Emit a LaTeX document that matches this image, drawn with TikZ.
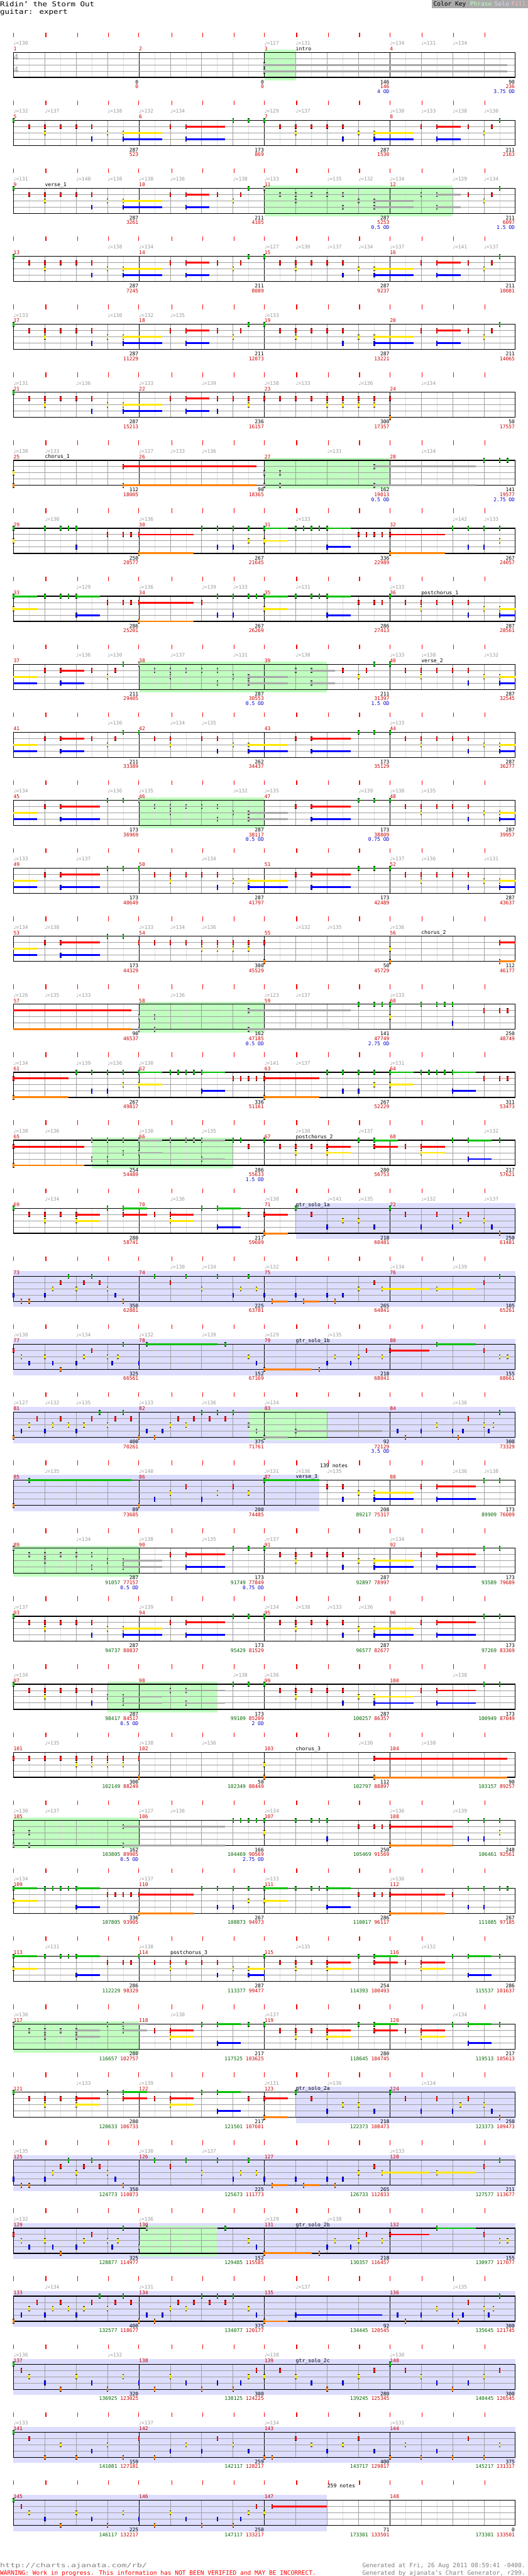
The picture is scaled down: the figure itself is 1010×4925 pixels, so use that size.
\documentclass[tikz,border=0pt]{standalone}
\usepackage{fontspec}
\newfontfamily\chartmono{DejaVu Sans Mono}
\newfontfamily\chartwide[FakeStretch=1.17]{DejaVu Sans Mono}
\newfontfamily\chartwider[FakeStretch=1.4]{DejaVu Sans Mono}
\newfontfamily\chartsym{DejaVu Sans}
\definecolor{cG}{HTML}{00C000}
\definecolor{cR}{HTML}{FF0000}
\definecolor{cY}{HTML}{FFE600}
\definecolor{cB}{HTML}{0000FF}
\definecolor{cO}{HTML}{FF8000}
\definecolor{cg}{HTML}{A8A8A8}
\definecolor{cr}{HTML}{A8A8A8}
\definecolor{cy}{HTML}{A8A8A8}
\definecolor{cb}{HTML}{A8A8A8}
\definecolor{co}{HTML}{A8A8A8}
\definecolor{phr}{HTML}{C0FFC0}
\definecolor{sol}{HTML}{DDDDFF}
\definecolor{fillpink}{HTML}{FFC0C0}
\definecolor{dred}{HTML}{CC0000}
\definecolor{dgreen}{HTML}{006600}
\definecolor{dblue}{HTML}{0000CC}
\definecolor{tgray}{HTML}{999999}
\definecolor{lgrid}{HTML}{E0E0E0}
\definecolor{mgrid}{HTML}{A0A0A0}
\definecolor{sline}{HTML}{A0A0A0}
\definecolor{keybg}{HTML}{AAAAAA}
\definecolor{footgray}{HTML}{808080}
\def\LaneG{0}\def\LaneR{1}\def\LaneY{2}\def\LaneB{3}\def\LaneO{4}
\def\Laneg{0}\def\Laner{1}\def\Laney{2}\def\Laneb{3}\def\Laneo{4}
\tikzset{
  numsty/.style={font=\chartmono\fontsize{9.6}{10}\selectfont,inner sep=0pt,anchor=base east},
  temposty/.style={font=\chartmono\fontsize{9.6}{10}\selectfont,text=tgray,inner sep=0pt,anchor=base west},
  mnumsty/.style={font=\chartmono\fontsize{9.6}{10}\selectfont,text=dred,inner sep=0pt,anchor=base west},
  secsty/.style={font=\chartmono\fontsize{9.8}{10}\selectfont,text=black,inner sep=0pt,anchor=base west},
  keysty/.style={font=\chartmono\fontsize{11.5}{12}\selectfont,inner sep=0pt,anchor=base west},
  footsty/.style={font=\chartmono\fontsize{11.5}{12}\selectfont,inner sep=0pt},
}
\newcommand\setrow[1]{\pgfmathsetmacro\ry{130*#1}\def\rn{#1}}
\newcommand\staff{%
  \foreach \k in {2,6,...,62}{\draw[lgrid,line width=0.8pt] ({25.8+15*\k},\ry+100) -- ({25.8+15*\k},\ry+148);}
  \foreach \k in {4,8,12,20,24,28,36,40,44,52,56,60}{\draw[mgrid,line width=1pt] ({25.8+15*\k},\ry+100) -- ({25.8+15*\k},\ry+148);}
  \foreach \k in {16,32,48}{\draw[black,line width=1pt] ({25.8+15*\k},\ry+100) -- ({25.8+15*\k},\ry+148);}
  \foreach \sy in {112,124,136}{\draw[sline,line width=1.2pt] (25.8,\ry+\sy) -- (985.8,\ry+\sy);}
  \draw[black,line width=1.5pt] (25.8,\ry+100) rectangle (985.8,\ry+148);
  \foreach \tx in {25.8,87.6,148.1,207.4,265.4,328.5,387.8,447.6,505.6,567.5,628.0,687.9,745.9,807.7,867.6,927.5}{\draw[cR,line width=1.6pt] (\tx,\ry+62) -- (\tx,\ry+71);}
  \foreach \k in {0,1,2,3}{\pgfmathtruncatemacro\mnum{4*\rn+1+\k}\node[mnumsty] at ({25.8+240*\k},\ry+96.8) {\mnum};}
}
\newcommand\PhR[2]{\fill[phr] ({25.8+15*#1},\ry+95) rectangle ({25.8+15*#2},\ry+154);}
\newcommand\SoL[2]{\fill[sol] ({25.8+15*#1},\ry+90) rectangle ({25.8+15*#2},\ry+159);}
\newcommand\tempos[1]{\foreach \b/\v in {#1}{\node[temposty] at ({25.8+60*\b},\ry+86) {{\chartsym ♩}=\v};}}
\newcommand\seclab[2]{\node[secsty] at ({25.8+60*#1},\ry+96.5) {#2};}
\newcommand\notehead[2]{%
  \pgfmathsetmacro\nx{25.8+15*#2}\pgfmathsetmacro\ny{\ry+100+12*\csname Lane#1\endcsname}%
  \fill[c#1] (\nx-1.5,\ny-4.5) rectangle (\nx+1.5,\ny+4.5);
  \fill[black] (\nx-1.5,\ny-4.5) rectangle (\nx+1.5,\ny-3.6);
  \fill[black] (\nx-1.5,\ny+3.6) rectangle (\nx+1.5,\ny+4.5);}
\newcommand\sustain[3]{%
  \pgfmathsetmacro\nx{25.8+15*#2}\pgfmathsetmacro\ny{\ry+100+12*\csname Lane#1\endcsname}%
  \draw[c#1,line width=3.5pt] (\nx,\ny) -- ({\nx+15*#3},\ny);}
\newcommand\hit[2]{\foreach \q in {#2}{\notehead{#1}{\q}}}
\newcommand\sus[2]{\foreach \q/\len in {#2}{\sustain{#1}{\q}{\len}\notehead{#1}{\q}}}
\newcommand\tail[2]{\sustain{#1}{0}{#2}}
\newcommand\mnums[5]{%
  \pgfmathsetmacro\mx{25.8+240*#1-0.8}%
  \node[numsty] at (\mx,\ry+160.2) {#2};
  \node[numsty] at (\mx,\ry+169.2) {\ifx&#3&\else\textcolor{dgreen}{#3}\ \fi\textcolor{dred}{#4}};
  \node[numsty,text=dblue] at (\mx,\ry+178.5) {#5};}
\begin{document}
\begin{tikzpicture}[x=1pt,y=-1pt]
\useasboundingbox (0,0) rectangle (1010,4925);
\fill[white] (0,0) rectangle (1010,4925);
% header
\node[font=\chartwide\fontsize{12.8}{14}\selectfont,inner sep=0pt,anchor=base west] (title) at (0,12.7) {Ridin’ the Storm Out};
\node[font=\chartwide\fontsize{12.8}{14}\selectfont,inner sep=0pt,anchor=base west] (inst) at (0,26.7) {guitar: expert};
\fill[keybg] (826,0) rectangle (1010,16);
\node[keysty,text=black] (k1) at (829,11.7) {Color Key};
\node[keysty,text=phr] (k2) at (899,11.7) {Phrase};
\node[keysty,text=sol] (k3) at (946,11.7) {Solo};
\node[keysty,text=fillpink] (k4) at (978,11.7) {Fill};
% row 0
\setrow{0}\PhR{32}{36}\staff
\node[font=\chartmono\fontsize{15}{15}\selectfont,text=tgray,inner sep=0pt,anchor=west] (ts1) at (26,109) {4};
\node[font=\chartmono\fontsize{15}{15}\selectfont,text=tgray,inner sep=0pt,anchor=west] (ts2) at (26,134) {4};
\tempos{0/130,8/127,9/131,12/134,13/131,14/134}\seclab{9}{intro}
\sus{y}{32/31}\sus{b}{32/31}
\mnums{1}{0}{}{0}{}\mnums{2}{0}{}{0}{}\mnums{3}{146}{}{146}{4 OD}\mnums{4}{90}{}{236}{3.75 OD}
% row 1
\setrow{1}\staff
\tempos{0/132,1/137,3/138,4/132,5/134,8/129,9/137,12/130,13/133,14/138,15/130}
\sus{R}{22/5,54/3}\sus{Y}{14/5,46/5}\sus{B}{14/5,22/5,46/5,54/3}
\hit{G}{0,28,30,32,62}\hit{R}{2,4,6,8,10,20,34,36,38,40,42,52,58,61}\hit{Y}{4,12,36,44,60}\hit{B}{10,42}
\mnums{1}{287}{}{523}{}\mnums{2}{173}{}{869}{}\mnums{3}{287}{}{1530}{}\mnums{4}{211}{}{2163}{}
% row 2
\setrow{2}\PhR{32}{56}\staff
\tempos{0/131,2/140,3/138,4/130,5/136,7/138,8/133,10/135,11/132,12/134,14/129,15/134}\seclab{1}{verse\_1}
\sus{R}{22/3}\sus{Y}{14/5}\sus{B}{14/5,22/3}
\sus{r}{54/3}\sus{y}{46/5}\sus{b}{46/5,54/3}
\hit{G}{0,30,62}\hit{g}{32}\hit{R}{2,4,6,8,10,20,26,29,58,61}\hit{Y}{4,12,28,60}\hit{B}{10}
\hit{r}{34,36,38,40,42,52}\hit{y}{36,44}\hit{b}{42}
\mnums{1}{287}{}{3261}{}\mnums{2}{211}{}{4105}{}\mnums{3}{287}{}{5253}{0.5 OD}\mnums{4}{211}{}{6097}{1.5 OD}
% row 3
\setrow{3}\staff
\tempos{3/138,4/134,8/127,9/130,10/137,11/134,12/137,14/141,15/137}
\sus{R}{22/3,54/3}\sus{Y}{14/5,46/5}\sus{B}{14/5,22/3,46/5,54/3}
\hit{G}{0,30,32,62}\hit{R}{2,4,6,8,10,20,26,29,34,36,38,40,42,52,58,61}\hit{Y}{4,12,28,36,44,60}\hit{B}{10,42}
\mnums{1}{287}{}{7245}{}\mnums{2}{211}{}{8089}{}\mnums{3}{287}{}{9237}{}\mnums{4}{211}{}{10081}{}
% row 4
\setrow{4}\staff
\tempos{0/133,3/130,4/132,5/135,8/133}
\sus{R}{22/3,54/3}\sus{Y}{14/5,46/5}\sus{B}{14/5,22/3,46/5,54/3}
\hit{G}{0,30,32,62}\hit{R}{2,4,6,8,10,20,26,29,34,36,38,40,42,52,58,61}\hit{Y}{4,12,28,36,44,60}\hit{B}{10,42}
\mnums{1}{287}{}{11229}{}\mnums{2}{211}{}{12073}{}\mnums{3}{287}{}{13221}{}\mnums{4}{211}{}{14065}{}
% row 5
\setrow{5}\staff
\tempos{0/131,2/136,4/133,6/139,8/138,9/133,11/136,13/134}
\sus{R}{22/3}\sus{Y}{14/5}\sus{B}{14/5,22/3}
\hit{G}{0}\hit{R}{2,4,6,8,10,20,26,28,30,32,34,36,38,40,42,44,46,48}\hit{Y}{4,12,30,40,42,44,46}\hit{B}{10,26}\hit{O}{48}
\mnums{1}{287}{}{15213}{}\mnums{2}{236}{}{16157}{}\mnums{3}{300}{}{17357}{}\mnums{4}{50}{}{17557}{}
% row 6
\setrow{6}\PhR{32}{48}\staff
\tempos{0/138,1/133,4/127,5/133,6/136,10/131,13/134}\seclab{1}{chorus\_1}
\sus{R}{14/17}\sus{O}{14/17}\sus{r}{46/13}\sus{o}{46/13}
\hit{Y}{0}\hit{O}{0}\hit{y}{32,34}\hit{o}{32,34}\hit{G}{60,62,63}
\mnums{1}{112}{}{18005}{}\mnums{2}{90}{}{18365}{}\mnums{3}{162}{}{19013}{0.5 OD}\mnums{4}{141}{}{19577}{2.75 OD}
% row 7
\setrow{7}\staff
\tempos{1/130,4/136,9/133,14/142,15/133}
\sus{R}{16/7,48/7}\sus{O}{16/7,48/7}\sus{G}{32/3,40/3}\sus{Y}{32/3}\sus{B}{40/3}
\hit{G}{0,4,6,7,8,24,26,28,30,36,37,38,39,56,58,60,62}\hit{Y}{0,30,62}\hit{B}{8,26,28,58,60}\hit{R}{12,14,15,44,45,46,47}
\mnums{1}{250}{}{20577}{}\mnums{2}{267}{}{21645}{}\mnums{3}{336}{}{22989}{}\mnums{4}{267}{}{24057}{}
% row 8
\setrow{8}\staff
\tempos{2/129,4/136,6/139,7/133,9/131,12/133}\seclab{13}{postchorus\_1}
\sus{G}{0/3,8/3,32/3,40/3}\sus{Y}{0/3,32/3,62/2}\sus{B}{8/3,40/3,62/2}\sus{R}{16/7}\sus{O}{16/7}
\hit{G}{4,6,7,26,28,30,31,36,38,39,48}\hit{R}{12,14,15,24,44,46,47,50,52,54,56,58}\hit{Y}{52,60}\hit{B}{26,28,58}
\mnums{1}{286}{}{25201}{}\mnums{2}{267}{}{26269}{}\mnums{3}{286}{}{27413}{}\mnums{4}{287}{}{28561}{}
% row 9
\setrow{9}\PhR{16}{40}\staff
\tempos{2/136,3/130,5/137,7/131,9/138,12/133,13/138,15/132}\seclab{13}{verse\_2}
\tail{Y}{3}\tail{B}{3}
\sus{R}{6/3}\sus{B}{6/3,62/2}\sus{Y}{62/2}\sus{y}{30/5}\sus{b}{30/5,38/3}\sus{r}{38/3}
\hit{R}{4,10,13,42,45,50,52,54,56,58}\hit{Y}{12,44,52,60}\hit{G}{14,46,48}\hit{B}{58}
\hit{g}{16}\hit{r}{18,20,22,24,26,36}\hit{y}{20,28}\hit{b}{26}
\mnums{1}{211}{}{29405}{}\mnums{2}{287}{}{30553}{0.5 OD}\mnums{3}{211}{}{31397}{1.5 OD}\mnums{4}{287}{}{32545}{}
% row 10
\setrow{10}\staff
\tempos{3/136,5/134,6/135,12/133}
\tail{Y}{3}\tail{B}{3}
\sus{R}{6/3,38/5}\sus{B}{6/3,30/5,38/5,62/2}\sus{Y}{30/5,62/2}
\hit{R}{4,10,13,18,20,24,26,36,50,52,54,56,58}\hit{Y}{12,20,28,52,60}\hit{G}{14,16,44,46,48}\hit{B}{26,58}
\mnums{1}{211}{}{33389}{}\mnums{2}{262}{}{34437}{}\mnums{3}{173}{}{35129}{}\mnums{4}{287}{}{36277}{}
% row 11
\setrow{11}\PhR{16}{32}\staff
\tempos{0/134,3/136,4/135,7/132,8/135,11/139,12/138,13/135}
\tail{Y}{3}\tail{B}{3}
\sus{R}{6/5,38/5}\sus{B}{6/5,38/5,62/2}\sus{Y}{62/2}\sus{y}{30/5}\sus{b}{30/5}
\hit{R}{4,36,50,52,54,56,58}\hit{G}{12,14,44,46,48}\hit{Y}{52,60}\hit{B}{58}
\hit{g}{16}\hit{r}{18,20,22,24,26}\hit{y}{20,28}\hit{b}{26}
\mnums{1}{173}{}{36969}{}\mnums{2}{287}{}{38117}{0.5 OD}\mnums{3}{173}{}{38809}{0.75 OD}\mnums{4}{287}{}{39957}{}
% row 12
\setrow{12}\staff
\tempos{0/133,2/137,6/134,12/137,13/136,15/131}
\tail{Y}{3}\tail{B}{3}
\sus{R}{6/5,38/5}\sus{Y}{30/5,62/2}\sus{B}{6/5,30/5,38/5,62/2}
\hit{R}{4,18,20,22,24,26,36,50,52,54,56,58}\hit{G}{12,14,16,44,46,48}\hit{Y}{20,28,52,60}\hit{B}{26,58}
\mnums{1}{173}{}{40649}{}\mnums{2}{287}{}{41797}{}\mnums{3}{173}{}{42489}{}\mnums{4}{287}{}{43637}{}
% row 13
\setrow{13}\staff
\tempos{0/134,1/138,4/133,5/134,6/136,9/132,10/135,12/136}\seclab{13}{chorus\_2}
\tail{Y}{3}\tail{B}{3}
\sus{R}{6/5,62/2}\sus{B}{6/5}\sus{O}{62/2}
\hit{R}{4,16,18,20,22,24,26,28,30,32}\hit{G}{12,14}\hit{Y}{24,26,28,30,48}\hit{O}{32,48}
\mnums{1}{173}{}{44329}{}\mnums{2}{300}{}{45529}{}\mnums{3}{50}{}{45729}{}\mnums{4}{112}{}{46177}{}
% row 14
\setrow{14}\PhR{16}{32}\staff
\tempos{0/126,1/135,2/133,5/136,8/123,9/137,12/133}
\tail{R}{15}\tail{O}{15}
\sus{r}{30/13}\sus{o}{30/13}
\hit{y}{16,18}\hit{o}{16,18}\hit{G}{44,46,47,48,52,54,55,56}\hit{Y}{48}\hit{B}{56}\hit{R}{60,62,63}
\mnums{1}{90}{}{46537}{}\mnums{2}{162}{}{47185}{0.5 OD}\mnums{3}{141}{}{47749}{2.75 OD}\mnums{4}{250}{}{48749}{}
% row 15
\setrow{15}\staff
\tempos{0/134,2/139,3/136,4/130,8/141,9/137,12/131}
\sus{R}{0/7,32/7}\sus{O}{0/7,32/7}\sus{G}{16/3,24/3,48/3,56/3}\sus{Y}{16/3,48/3}\sus{B}{24/3,56/3}
\hit{G}{8,10,12,14,20,21,22,23,40,42,44,46,52,53,54,55}\hit{B}{10,12,42,44}\hit{Y}{14,46}\hit{R}{28,29,30,31,60,62,63}
\mnums{1}{267}{}{49817}{}\mnums{2}{336}{}{51161}{}\mnums{3}{267}{}{52229}{}\mnums{4}{311}{}{53473}{}
% row 16
\setrow{16}\PhR{10}{28}\staff
\tempos{0/138,1/136,4/130,6/135,9/130,11/137,15/132}\seclab{9}{postchorus\_2}
\sus{R}{0/9,40/3,46/3,52/3}\sus{O}{0/9}\sus{Y}{40/3,52/3}\sus{G}{46/3,58/3}\sus{B}{58/3}
\sus{g}{16/3,24/3}\sus{y}{16/3}\sus{b}{24/3}
\hit{g}{10,12,14,20,22,23}\hit{b}{10,12}\hit{y}{14}
\hit{G}{28,29,32,44,56,62}\hit{R}{30,34,36,38,50}\hit{Y}{36}
\mnums{1}{254}{}{54489}{}\mnums{2}{286}{}{55633}{1.5 OD}\mnums{3}{280}{}{56753}{}\mnums{4}{217}{}{57621}{}
% row 17
\setrow{17}\SoL{36}{64}\staff
\tempos{1/134,5/136,8/130,10/141,11/135,13/132,15/137}\seclab{9}{gtr\_solo\_1a}
\sus{R}{8/3,14/3,20/3,32/3}\sus{Y}{8/3,20/3}\sus{G}{14/3,26/3}\sus{B}{26/3}\sus{O}{32/3}
\hit{G}{0,12,24,36,48}\hit{R}{2,4,6,18,30,38,50,54,58}\hit{Y}{4,42,44,57,60}\hit{B}{40,46,52,56,61}\hit{O}{62}
\mnums{1}{280}{}{58741}{}\mnums{2}{217}{}{59609}{}\mnums{3}{218}{}{60481}{}\mnums{4}{250}{}{61481}{}
% row 18
\setrow{18}\SoL{0}{64}\staff
\tempos{5/130,6/134,8/132,12/134,14/139}
\sus{O}{33/2,37/2}\sus{Y}{47/6,54/5}
\hit{B}{0,4,13,28,32,36,40,42}\hit{O}{1,2,14,41}\hit{Y}{5,8,12,24,29,31,44}\hit{R}{6,9,11,20,46,60}\hit{G}{7,10,18,22,26,30,62}
\mnums{1}{350}{}{62881}{}\mnums{2}{225}{}{63781}{}\mnums{3}{265}{}{64841}{}\mnums{4}{105}{}{65261}{}
% row 19
\setrow{19}\SoL{0}{64}\staff
\tempos{0/130,2/134,4/132,6/139,8/129,10/135}\seclab{9}{gtr\_solo\_1b}
\sus{G}{17/9,54/5}\sus{O}{32/6}\sus{R}{48/5}
\hit{R}{0,10,45,60}\hit{Y}{1,4,9,12,13.3,30,41,44,47,62,63}\hit{B}{2,5,8,12.6,16,31,40,43}\hit{O}{6,39}\hit{G}{14,27}
\mnums{1}{325}{}{66561}{}\mnums{2}{152}{}{67169}{}\mnums{3}{218}{}{68041}{}\mnums{4}{155}{}{68661}{}
% row 20
\setrow{20}\SoL{0}{64}\PhR{30}{40}\staff
\tempos{0/127,1/132,2/135,4/133,6/136,8/134,14/136}
\sus{o}{32/3}\sus{b}{36/11}
\hit{y}{30}\hit{b}{31}
\hit{O}{0,16,18,50,56.7}\hit{B}{1,4,8,17,19,49,52,56,57.3,60.6}\hit{Y}{2,5,7,9,12,20,22,54,60,61.2}\hit{R}{3,6,10,13,15,21,23,25,27,58}\hit{G}{11,14,24,26,28,62}
\mnums{1}{400}{}{70261}{}\mnums{2}{375}{}{71761}{}\mnums{3}{92}{}{72129}{3.5 OD}\mnums{4}{300}{}{73329}{}
% row 21
\setrow{21}\SoL{0}{39}\staff
\tempos{1/135,4/140,8/131,9/136,10/135,14/136,15/138}\seclab{9}{verse\_3}
\node[secsty] (n139) at (612,\ry+76) {139 notes};
\sus{G}{2/13,32/7}\sus{Y}{46/5}\sus{B}{46/5,54/5}\sus{R}{54/5}
\hit{O}{0,16}\hit{B}{18,24,42}\hit{Y}{20,26,30,44}\hit{R}{22,28,40,42,52}\hit{G}{60,62}
\mnums{1}{89}{}{73685}{}\mnums{2}{200}{}{74485}{}\mnums{3}{208}{89217}{75317}{}\mnums{4}{173}{89909}{76009}{}
% row 22
\setrow{22}\PhR{0}{16}\staff
\tempos{2/134,4/138,6/135,8/137,12/134}
\sus{y}{14/5}\sus{b}{14/5}\sus{R}{22/5,54/5}\sus{B}{22/5,46/5,54/5}\sus{Y}{46/5}
\hit{g}{0}\hit{r}{2,4,6,8,10}\hit{y}{4,12}\hit{b}{10}
\hit{R}{20,34,36,38,40,42,52}\hit{G}{28,30,32,60,62}\hit{Y}{36,44}\hit{B}{42}
\mnums{1}{287}{91057}{77157}{0.5 OD}\mnums{2}{173}{91749}{77849}{0.75 OD}\mnums{3}{287}{92897}{78997}{}\mnums{4}{173}{93589}{79689}{}
% row 23
\setrow{23}\staff
\tempos{0/137,4/139,8/134,9/138,10/133,11/136}
\sus{Y}{14/5,46/5}\sus{B}{14/5,22/5,46/5,54/5}\sus{R}{22/5,54/5}
\hit{G}{0,28,30,32,60,62}\hit{R}{2,4,6,8,10,20,34,36,38,40,42,52}\hit{Y}{4,12,36,44}\hit{B}{10,42}
\mnums{1}{287}{94737}{80837}{}\mnums{2}{173}{95429}{81529}{}\mnums{3}{287}{96577}{82677}{}\mnums{4}{173}{97269}{83369}{}
% row 24
\setrow{24}\PhR{12}{26}\staff
\tempos{0/134,7/138,8/136,14/138}
\sus{y}{14/5}\sus{b}{14/5,22/5}\sus{r}{22/5}\sus{Y}{46/5}\sus{B}{46/5,54/5}\sus{R}{54/5}
\hit{y}{12}\hit{r}{20}
\hit{G}{0,28,30,32,60,62}\hit{R}{2,4,6,8,10,34,36,38,40,42,52}\hit{Y}{4,36,44}\hit{B}{10,42}
\mnums{1}{287}{98417}{84517}{0.5 OD}\mnums{2}{173}{99109}{85209}{2 OD}\mnums{3}{287}{100257}{86357}{}\mnums{4}{173}{100949}{87049}{}
% row 25
\setrow{25}\staff
\tempos{1/135,4/138,6/136,11/130,13/138}\seclab{9}{chorus\_3}
\sus{R}{46/17}\sus{O}{46/17}
\hit{R}{0,2,4,6,8,10,12,14,16}\hit{Y}{8,10,12,14,32}\hit{O}{16,32}
\mnums{1}{300}{102149}{88249}{}\mnums{2}{50}{102349}{88449}{}\mnums{3}{112}{102797}{88897}{}\mnums{4}{90}{103157}{89257}{}
% row 26
\setrow{26}\PhR{0}{16}\staff
\tempos{0/130,1/137,4/127,5/136,8/134,12/136,14/139}
\sus{r}{14/13}\sus{o}{14/13}\sus{R}{48/8}\sus{O}{48/8}
\hit{y}{0,2}\hit{o}{0,2}
\hit{G}{28,29,30,31,32,36,38,39,40,58,60,62}\hit{Y}{32,62}\hit{B}{40,58,60}\hit{R}{44,46,47}
\mnums{1}{162}{103805}{89905}{0.5 OD}\mnums{2}{166}{104469}{90569}{2.75 OD}\mnums{3}{250}{105469}{91569}{}\mnums{4}{248}{106461}{92561}{}
% row 27
\setrow{27}\staff
\tempos{0/134,4/137,8/133,12/136}
\sus{G}{0/3,8/3,32/3,40/3}\sus{Y}{0/3,32/3}\sus{B}{8/3,40/3}\sus{R}{16/7,48/7}\sus{O}{16/7,48/7}
\hit{G}{4,5,6,7,24,26,28,30,36,38,39,58,60,62,63}\hit{R}{12,13,14,15,44,46,47,56}\hit{B}{26,28,58,60}\hit{Y}{30}
\mnums{1}{336}{107805}{93905}{}\mnums{2}{267}{108873}{94973}{}\mnums{3}{286}{110017}{96117}{}\mnums{4}{267}{111085}{97185}{}
% row 28
\setrow{28}\staff
\tempos{1/131,4/138,9/135,13/132}\seclab{5}{postchorus\_3}
\sus{G}{0/3,8/3,46/3,58/3}\sus{Y}{0/3,30/2,40/3,52/3}\sus{B}{8/3,30/2,58/3}\sus{R}{40/3,46/3,52/3}
\hit{G}{4,6,7,16,32,44,56,62}\hit{R}{12,14,15,18,20,22,24,26,34,36,38,50}\hit{Y}{20,28,36}\hit{B}{26}
\mnums{1}{286}{112229}{98329}{}\mnums{2}{287}{113377}{99477}{}\mnums{3}{254}{114393}{100493}{}\mnums{4}{286}{115537}{101637}{}
% row 29
\setrow{29}\PhR{0}{16}\staff
\tempos{0/136,5/130,8/137,14/134}
\sus{r}{8/3,14/3}\sus{y}{8/3}\sus{g}{14/3}
\hit{g}{0,12}\hit{r}{2,4,6}\hit{y}{4}
\sus{R}{20/3,40/3,46/3,52/3}\sus{Y}{20/3,40/3,52/3}\sus{G}{26/3,46/3,58/3}\sus{B}{26/3,58/3}
\hit{R}{18,34,36,38,50}\hit{G}{24,30,32,44,56,62}\hit{Y}{36}
\mnums{1}{280}{116657}{102757}{}\mnums{2}{217}{117525}{103625}{}\mnums{3}{280}{118645}{104745}{}\mnums{4}{217}{119513}{105613}{}
% row 30
\setrow{30}\SoL{36}{64}\staff
\tempos{2/133,4/139,8/131,10/136,13/134}\seclab{9}{gtr\_solo\_2a}
\sus{R}{8/3,14/3,20/3,32/3}\sus{Y}{8/3,20/3}\sus{G}{14/3,26/3}\sus{B}{26/3}\sus{O}{32/3}
\hit{G}{0,12,24,36,48}\hit{R}{2,4,6,18,30,38,50,54,58}\hit{Y}{4,42,44,57,60}\hit{B}{40,46,52,56,61}\hit{O}{62}
\mnums{1}{280}{120633}{106733}{}\mnums{2}{217}{121501}{107601}{}\mnums{3}{218}{122373}{108473}{}\mnums{4}{250}{123373}{109473}{}
% row 31
\setrow{31}\SoL{0}{64}\staff
\tempos{0/135,4/130,6/137,12/133}
\sus{O}{33/2,37/2}\sus{Y}{47/6,54/5}
\hit{B}{0,4,13,28,32,36,40,42}\hit{O}{1,2,14,41}\hit{Y}{5,8,12,24,29,31,44}\hit{R}{6,9,11,20,46,60}\hit{G}{7,10,18,22,26,30,62}
\mnums{1}{350}{124773}{110873}{}\mnums{2}{225}{125673}{111773}{}\mnums{3}{265}{126733}{112833}{}\mnums{4}{211}{127577}{113677}{}
% row 32
\setrow{32}\SoL{0}{64}\PhR{16}{26}\staff
\tempos{0/132,4/136,8/129,10/138}\seclab{9}{gtr\_solo\_2b}
\sus{g}{17/9}\sus{G}{54/5}\sus{O}{32/6}\sus{R}{48/5}
\hit{b}{16}
\hit{R}{0,10,45,60}\hit{Y}{1,4,9,12,13.3,30,41,44,47,62,63}\hit{B}{2,5,8,12.6,31,40,43}\hit{O}{6,39}\hit{G}{14,27}
\mnums{1}{325}{128877}{114977}{}\mnums{2}{152}{129485}{115585}{}\mnums{3}{218}{130357}{116457}{}\mnums{4}{155}{130977}{117077}{}
% row 33
\setrow{33}\SoL{0}{64}\staff
\tempos{1/134,4/131,9/137,14/135}
\sus{O}{32/3}\sus{B}{36/11}
\hit{O}{0,16,18,50,56.7}\hit{B}{1,4,8,17,19,31,49,52,56,57.3,60.6}\hit{Y}{2,5,7,9,12,20,22,30,54,60,61.2}\hit{R}{3,6,10,13,15,21,23,25,27,58}\hit{G}{11,14,24,26,28,62}
\mnums{1}{400}{132577}{118677}{}\mnums{2}{375}{134077}{120177}{}\mnums{3}{92}{134445}{120545}{}\mnums{4}{300}{135645}{121745}{}
% row 34
\setrow{34}\SoL{0}{64}\staff
\tempos{0/136,3/132,8/138,12/130}\seclab{9}{gtr\_solo\_2c}
\hit{G}{0,48}\hit{R}{1,31,34,46,50,62}\hit{Y}{2,8,14,20,30,32,36,44,52,60}\hit{B}{4,10,16,22,26,29,38,42,54,58}\hit{O}{6,12,18,24,28,40,56}
\mnums{1}{320}{136925}{123025}{}\mnums{2}{300}{138125}{124225}{}\mnums{3}{280}{139245}{125345}{}\mnums{4}{300}{140445}{126545}{}
% row 35
\setrow{35}\SoL{0}{64}\staff
\tempos{0/133,4/137,8/134,12/131}
\hit{O}{4,8,14,18,32,33,48,52,56,60}\hit{G}{0}\hit{R}{2,16,26,36,44,58}\hit{Y}{6,12,22,28,38,42,50,62}\hit{B}{10,20,24,30,40,46,54}
\mnums{1}{159}{141081}{127181}{}\mnums{2}{259}{142117}{128217}{}\mnums{3}{400}{143717}{129817}{}\mnums{4}{375}{145217}{131317}{}
% row 36
\setrow{36}\SoL{0}{40}\staff
\node[secsty] (n259) at (626,\ry+76) {259 notes};
\sus{R}{33/7}
\hit{G}{0}\hit{R}{1,31}\hit{Y}{2,8,14,20,30,32}\hit{B}{4,10,16,22,26,29}\hit{O}{6,12,18,24,28}
\mnums{1}{225}{146117}{132217}{}\mnums{2}{250}{147117}{133217}{}\mnums{3}{71}{173301}{133501}{}\mnums{4}{0}{173301}{133501}{}
% footer
\node[footsty,font=\chartwider\fontsize{11.5}{12}\selectfont,text=footgray,anchor=base west] (url) at (0,4909) {http://charts.ajanata.com/rb/};
\node[footsty,text=cR,anchor=base west] (warn) at (0,4923) {WARNING: Work in progress. This information has NOT BEEN VERIFIED and MAY BE INCORRECT.};
\node[footsty,text=footgray,anchor=base east] (gen1) at (1005,4909) {Generated at Fri, 26 Aug 2011 08:59:41 -0400.};
\node[footsty,text=footgray,anchor=base east] (gen2) at (1005,4923) {Generated by ajanata’s Chart Generator, r299.};
\end{tikzpicture}
\end{document}
